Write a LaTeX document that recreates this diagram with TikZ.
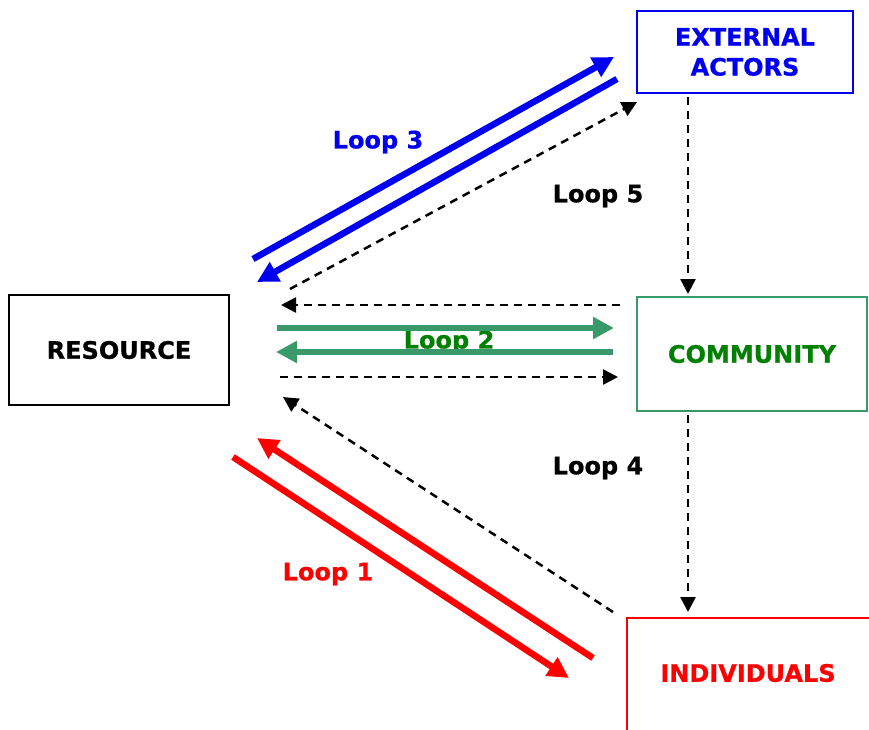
\documentclass[tikz,border=0pt]{standalone}
\usepackage{fontspec}
\setmainfont{DejaVu Sans}[BoldFeatures={FakeBold=0.8}]
\usetikzlibrary{arrows.meta}
\definecolor{loopblue}{RGB}{0,0,240}
\definecolor{loopgreen}{RGB}{56,154,104}
\definecolor{textgreen}{RGB}{0,128,0}
\definecolor{loopred}{RGB}{255,0,0}
\tikzset{
  box/.style={draw, line width=2pt, minimum width=#1, inner sep=0pt, align=center, font=\fontsize{24}{30}\selectfont\bfseries},
  lbl/.style={font=\fontsize{24}{30}\selectfont\bfseries, inner sep=0pt},
  thick arrow/.style={line width=6.5pt, -{Triangle[length=21pt,width=21pt]}},
  dash arrow/.style={line width=2.5pt, dash pattern=on 8pt off 6pt, -{Triangle[length=15pt,width=15pt]}},
}
\begin{document}
\begin{tikzpicture}[x=1pt,y=-1pt]
\useasboundingbox (0,0) rectangle (869,729);
% boxes
\node[box=220pt, minimum height=110pt, draw=black] (res) at (119,350) {RESOURCE};
\node[box=216pt, minimum height=82pt, draw=loopblue, text=loopblue] (ext) at (745,52) {EXTERNAL\\ACTORS};
\node[box=230pt, minimum height=114pt, draw=loopgreen, text=textgreen] (com) at (752,354) {COMMUNITY};
\draw[loopred, line width=2pt] (627,735) |- (875,618);
\node[lbl, text=loopred] (ind) at (748,673) {INDIVIDUALS};
% coordinates
\coordinate (b1s) at (253,259); \coordinate (b1e) at (614,57);
\coordinate (b2s) at (617,79);  \coordinate (b2e) at (257,282);
\coordinate (d1s) at (290,289); \coordinate (d1e) at (637,102);
\coordinate (v1s) at (688,97);  \coordinate (v1e) at (688,294);
\coordinate (h1s) at (620,305); \coordinate (h1e) at (281,305);
\coordinate (g1s) at (277,328); \coordinate (g1e) at (614,328);
\coordinate (g2s) at (613,352); \coordinate (g2e) at (276,352);
\coordinate (h2s) at (280,377); \coordinate (h2e) at (618,377);
\coordinate (v2s) at (688,415); \coordinate (v2e) at (688,612);
\coordinate (d2s) at (613,612); \coordinate (d2e) at (283,397);
\coordinate (r1s) at (593,658); \coordinate (r1e) at (257,438);
\coordinate (r2s) at (233,457); \coordinate (r2e) at (569,678);
% labels
\node[lbl, text=loopblue] (l3) at (378,142) {Loop 3};
\node[lbl] (l5) at (598,196) {Loop 5};
\node[lbl, text=textgreen] (l2) at (449,342) {Loop 2};
\node[lbl] (l4) at (598,468) {Loop 4};
\node[lbl, text=loopred] (l1) at (328,574) {Loop 1};
% arrows
\draw[thick arrow, loopblue] (b1s) -- (b1e);
\draw[thick arrow, loopblue] (b2s) -- (b2e);
\draw[dash arrow] (d1s) -- (d1e);
\draw[dash arrow] (v1s) -- (v1e);
\draw[dash arrow] (h1s) -- (h1e);
\draw[thick arrow, loopgreen] (g1s) -- (g1e);
\draw[thick arrow, loopgreen] (g2s) -- (g2e);
\draw[dash arrow] (h2s) -- (h2e);
\draw[dash arrow] (v2s) -- (v2e);
\draw[dash arrow] (d2s) -- (d2e);
\draw[thick arrow, loopred] (r1s) -- (r1e);
\draw[thick arrow, loopred] (r2s) -- (r2e);
\end{tikzpicture}
\end{document}
